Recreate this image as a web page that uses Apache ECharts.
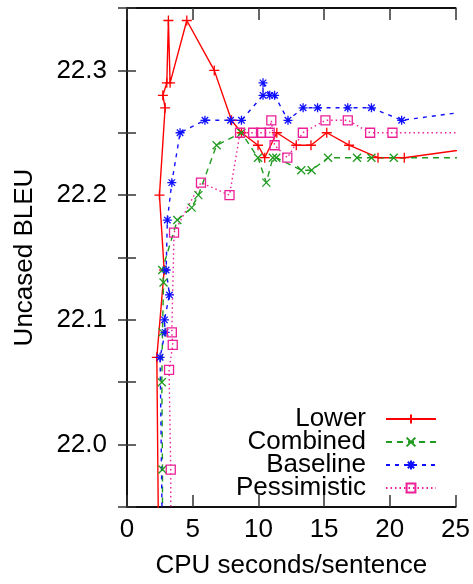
<!DOCTYPE html>
<html>
<head>
<meta charset="utf-8">
<script src="https://cdn.jsdelivr.net/npm/echarts@6/dist/echarts.min.js"></script>
<style>
  html, body { margin: 0; padding: 0; background: #fff; }
  #chart { width: 473px; height: 584px; }
</style>
</head>
<body>
<div id="chart"></div>
<script>
// values (x = CPU seconds/sentence, y = uncased BLEU)
var lowerX = [2.42, 2.27, 2.83, 2.47, 2.9, 2.73, 3.03, 3.15, 3.28, 4.55, 6.64, 7.95, 8.71, 9.97, 10.48, 11.4, 12.88, 14.0, 15.2, 16.9, 19.1, 21.1, 28];
var lowerY = [21.9, 22.07, 22.14, 22.20, 22.27, 22.28, 22.29, 22.34, 22.29, 22.34, 22.30, 22.26, 22.25, 22.24, 22.23, 22.25, 22.24, 22.24, 22.25, 22.24, 22.23, 22.23, 22.24];

var combinedX = [2.7, 2.7, 2.65, 2.7, 2.78, 2.68, 3.83, 4.92, 5.43, 6.82, 8.7, 9.97, 10.6, 11.1, 11.36, 13.26, 14.05, 15.3, 17.5, 18.6, 20.3, 28];
var combinedY = [21.9, 21.98, 22.05, 22.09, 22.13, 22.14, 22.18, 22.19, 22.20, 22.24, 22.25, 22.23, 22.21, 22.23, 22.23, 22.22, 22.22, 22.23, 22.23, 22.23, 22.23, 22.23];

var baselineX = [2.72, 2.52, 2.9, 2.85, 3.23, 2.98, 3.07, 3.41, 4.04, 5.93, 7.88, 8.71, 10.35, 10.35, 10.86, 11.23, 12.25, 13.4, 14.5, 16.8, 18.6, 20.9, 28];
var baselineY = [21.9, 22.07, 22.09, 22.10, 22.12, 22.14, 22.18, 22.21, 22.25, 22.26, 22.26, 22.26, 22.28, 22.29, 22.28, 22.28, 22.26, 22.27, 22.27, 22.27, 22.27, 22.26, 22.27];

var pessX = [3.33, 3.33, 3.2, 3.48, 3.41, 3.58, 5.63, 7.8, 8.6, 9.6, 10.2, 10.86, 10.98, 11.23, 12.2, 13.38, 15.1, 16.8, 18.5, 20.2, 28];
var pessY = [21.9, 21.98, 22.06, 22.08, 22.09, 22.17, 22.21, 22.20, 22.25, 22.25, 22.25, 22.25, 22.26, 22.24, 22.23, 22.25, 22.26, 22.26, 22.25, 22.25, 22.25];

var seriesNames = ['Lower', 'Combined', 'Baseline', 'Pessimistic'];
var xTicks = { min: 0, max: 25, interval: 5 };
var yTicks = { min: 21.95, max: 22.35, interval: 0.05 };

function pairs(xs, ys) {
    return xs.map(function (x, i) { return [x, ys[i]]; });
}

var FONT = 'Liberation Sans';
var RED = '#ff0000', GREEN = '#1f9b1f', BLUE = '#1010ff', PINK = '#ec1f97';

// marker shapes, drawn as strokes only
var PLUS = 'path://M0,-5L0,5M-5,0L5,0';
var CROSS = 'path://M-5,-5L5,5M-5,5L5,-5';
var STAR = 'path://M0,-5L0,5M-5,0L5,0M-3.6,-3.6L3.6,3.6M-3.6,3.6L3.6,-3.6';
var SQUARE = 'path://M-5,-5L5,-5L5,5L-5,5Z';

function line(name, data, color, symbol, size, dash) {
    return {
        name: name,
        type: 'line',
        data: data,
        symbol: symbol,
        symbolSize: size,
        showAllSymbol: true,
        clip: true,
        animation: false,
        itemStyle: { color: 'rgba(0,0,0,0)', borderColor: color, borderWidth: 1.3 },
        lineStyle: { color: color, width: 1.4, type: dash },
        emphasis: { disabled: true }
    };
}

var axisLine = { show: true, lineStyle: { color: '#111', width: 2 } };

var option = {
    backgroundColor: '#fff',
    animation: false,
    textStyle: { fontFamily: FONT },
    grid: { left: 127, top: 8, width: 330, height: 502.5, containLabel: false },
    legend: {
        orient: 'vertical',
        align: 'right',
        right: 36,
        top: 406,
        padding: 0,
        itemGap: -3,
        itemWidth: 50,
        itemHeight: 11,
        selectedMode: false,
        data: seriesNames,
        textStyle: { fontFamily: FONT, fontSize: 26, color: '#000', padding: [0, 15, 0, 0] }
    },
    xAxis: [{
        type: 'value', position: 'bottom',
        min: xTicks.min, max: xTicks.max, interval: xTicks.interval,
        name: 'CPU seconds/sentence', nameLocation: 'middle', nameGap: 46,
        nameTextStyle: { fontFamily: FONT, fontSize: 26, color: '#000' },
        axisLine: axisLine,
        axisTick: { show: true, inside: true, length: 12, lineStyle: { color: '#333', width: 1.5 } },
        axisLabel: { fontFamily: FONT, fontSize: 26, color: '#000', margin: 10 },
        splitLine: { show: false }
    }, {
        type: 'value', position: 'top',
        min: xTicks.min, max: xTicks.max, interval: xTicks.interval,
        axisLine: axisLine,
        axisTick: { show: true, inside: true, length: 12, lineStyle: { color: '#333', width: 1.5 } },
        axisLabel: { show: false },
        splitLine: { show: false }
    }],
    yAxis: [{
        type: 'value', position: 'left',
        min: yTicks.min, max: yTicks.max, interval: yTicks.interval,
        name: 'Uncased BLEU', nameLocation: 'middle', nameGap: 89,
        nameTextStyle: { fontFamily: FONT, fontSize: 26, color: '#000' },
        axisLine: axisLine,
        axisTick: { show: true, inside: true, length: 9, lineStyle: { color: '#333', width: 1.5 } },
        axisLabel: {
            fontFamily: FONT, fontSize: 26, color: '#000', margin: 20,
            formatter: function (v) {
                return Math.round(v * 20) % 2 === 0 ? v.toFixed(1) : '';
            }
        },
        splitLine: { show: false }
    }, {
        type: 'value', position: 'right',
        min: yTicks.min, max: yTicks.max, interval: yTicks.interval,
        axisLine: axisLine,
        axisTick: { show: true, inside: true, length: 9, lineStyle: { color: '#333', width: 1.5 } },
        axisLabel: { show: false },
        splitLine: { show: false }
    }],
    series: [
        line('Lower', pairs(lowerX, lowerY), RED, PLUS, 10, 'solid'),
        line('Combined', pairs(combinedX, combinedY), GREEN, CROSS, 8, [6, 5]),
        line('Baseline', pairs(baselineX, baselineY), BLUE, STAR, 9, [4, 5]),
        line('Pessimistic', pairs(pessX, pessY), PINK, SQUARE, 9, [1.5, 3])
    ]
};

var chart = echarts.init(document.getElementById('chart'), null, { renderer: 'canvas' });
chart.setOption(option);
</script>
</body>
</html>
